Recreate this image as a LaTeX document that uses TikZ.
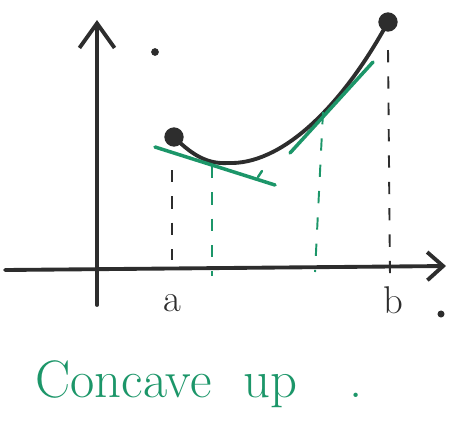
\documentclass[tikz,border=0pt]{standalone}
\usepackage{xcolor}
\usepackage{tikz}
\usetikzlibrary{arrows.meta, positioning}

\definecolor{pengreen}{RGB}{28,150,105}
\definecolor{penblack}{RGB}{45,45,45}

\begin{document}
\begin{tikzpicture}[
    x=0.02cm, y=-0.02cm,
    axis/.style={line width=2.2pt, penblack, line cap=round},
    curve/.style={line width=2.2pt, penblack, line cap=round},
    tangent/.style={line width=2pt, pengreen, line cap=round},
    guide/.style={line width=1.1pt, dash pattern=on 7pt off 8pt},
    endpt/.style={circle, fill=penblack, inner sep=0pt, minimum size=11pt},
    label/.style={font=\fontsize{22}{26}\selectfont, text=penblack, inner sep=0pt}
]
\useasboundingbox (0,0) rectangle (462,437);

% Axes
\coordinate (ybot) at (97,305);
\coordinate (ytop) at (97,20);
\coordinate (xleft) at (5,270);
\coordinate (xright) at (446,266);
\draw[axis, -{Straight Barb[length=14pt, width=20pt, line width=2.2pt]}] (ybot) -- (ytop);
\draw[axis, -{Straight Barb[length=9pt, width=16pt, line width=2.2pt]}] (xleft) -- (xright);

% Curve
\coordinate (A) at (174,137);
\coordinate (B) at (388,22);
\coordinate (M) at (228,163);
\draw[curve] (A) .. controls (195,158) and (210,164) .. (M)
             .. controls (280,165) and (340,110) .. (B);
\node[endpt] (ptA) at (A) {};
\node[endpt] (ptB) at (B) {};

% Tangents
\coordinate (t1a) at (155,147);
\coordinate (t1b) at (275,185);
\coordinate (t2a) at (290,153);
\coordinate (t2b) at (373,62);
\draw[tangent] (t1a) -- (t1b);
\draw[tangent, line width=1.4pt] (258,177) -- (262,171);
\draw[tangent] (t2a) -- (t2b);

% Guides to the x axis
\coordinate (P) at (212,166);
\coordinate (Q) at (323,112);
\draw[guide, penblack] (172,170) -- (172,260);
\draw[guide, penblack] (388,50) -- (390,276);
\draw[guide, pengreen] (P) -- (212,276);
\draw[guide, pengreen] (Q) -- (315,272);

% Labels
\node[label] (lblA) at (172,303) {a};
\node[label] (lblB) at (393,300) {b};
\fill[penblack] (441,314) circle (2pt);
\fill[penblack] (155,52) circle (2.2pt);
\node[font=\fontsize{30}{34}\selectfont, text=pengreen, anchor=base west, inner sep=0pt]
    (caption) at (35,397) {Concave\hspace{0.6em}up\hspace{1em}.};

\end{tikzpicture}
\end{document}
